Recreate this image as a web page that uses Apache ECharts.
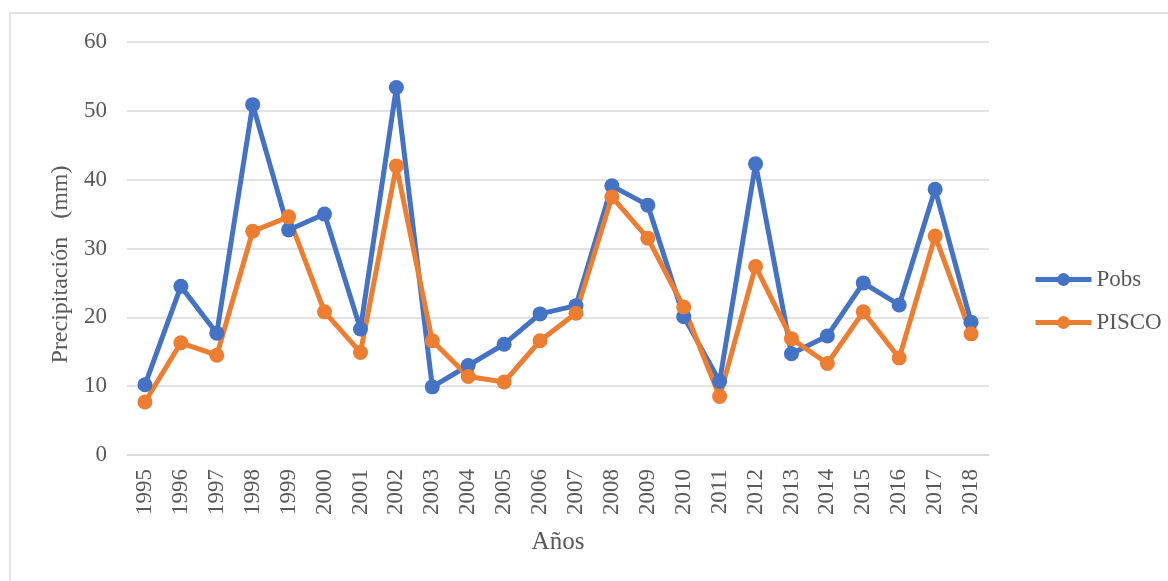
<!DOCTYPE html>
<html>
<head>
<meta charset="utf-8">
<script src="https://cdn.jsdelivr.net/npm/echarts@6/dist/echarts.min.js"></script>
<style>
  html, body { margin: 0; padding: 0; background: #fff; }
  #chart { width: 1168px; height: 581px; }
</style>
</head>
<body>
<div id="chart"></div>
<script>
const years = ['1995', '1996', '1997', '1998', '1999', '2000', '2001', '2002', '2003', '2004', '2005', '2006',
  '2007', '2008', '2009', '2010', '2011', '2012', '2013', '2014', '2015', '2016', '2017', '2018'];
const pobs = [10.2, 24.5, 17.7, 50.9, 32.7, 35.0, 18.3, 53.4, 9.9, 13.0, 16.1, 20.5,
  21.7, 39.1, 36.3, 20.1, 10.7, 42.3, 14.7, 17.3, 25.0, 21.8, 38.6, 19.3];
const pisco = [7.7, 16.3, 14.5, 32.5, 34.6, 20.8, 14.9, 42.0, 16.6, 11.4, 10.6, 16.6,
  20.6, 37.5, 31.5, 21.5, 8.5, 27.4, 16.9, 13.3, 20.8, 14.1, 31.8, 17.6];
const yTicks = { min: 0, max: 60, interval: 10 };

const chart = echarts.init(document.getElementById('chart'));
const serif = '"Liberation Serif", "Times New Roman", serif';
const grey = '#595959';

chart.setOption({
  backgroundColor: '#fff',
  textStyle: { fontFamily: serif },
  graphic: [{
    type: 'rect',
    shape: { x: 10, y: 13, width: 1170, height: 600 },
    style: { fill: 'none', stroke: '#d9d9d9', lineWidth: 1.5 },
    silent: true
  }],
  grid: { left: 127, right: 179, top: 42, bottom: 126 },
  legend: {
    orient: 'vertical',
    left: 1028,
    top: 263,
    itemWidth: 56,
    itemHeight: 16,
    itemGap: 20,
    lineStyle: { width: 5 },
    textStyle: { fontFamily: serif, fontSize: 23, color: grey },
    data: ['Pobs', 'PISCO']
  },
  xAxis: {
    type: 'category',
    data: years,
    boundaryGap: true,
    name: 'Años',
    nameLocation: 'middle',
    nameGap: 75,
    nameTextStyle: { fontFamily: serif, fontSize: 25, color: grey },
    axisLine: { lineStyle: { color: '#d9d9d9', width: 1.5 } },
    axisTick: { show: false },
    axisLabel: { rotate: 90, margin: 14, fontSize: 23, color: grey, fontFamily: serif }
  },
  yAxis: {
    type: 'value',
    min: yTicks.min,
    max: yTicks.max,
    interval: yTicks.interval,
    name: 'Precipitación   (mm)',
    nameLocation: 'middle',
    nameRotate: 90,
    nameGap: 47,
    nameTextStyle: { fontFamily: serif, fontSize: 24, color: grey, padding: [0, 32, 0, 0] },
    axisLine: { show: false },
    axisTick: { show: false },
    axisLabel: { margin: 20, fontSize: 23, color: grey, fontFamily: serif },
    splitLine: { lineStyle: { color: '#d9d9d9', width: 1.5 } }
  },
  series: [
    {
      name: 'Pobs',
      type: 'line',
      data: pobs,
      symbol: 'circle',
      symbolSize: 15,
      color: '#4472C4',
      lineStyle: { width: 5, color: '#4472C4' },
      itemStyle: { color: '#4472C4' },
      animation: false
    },
    {
      name: 'PISCO',
      type: 'line',
      data: pisco,
      symbol: 'circle',
      symbolSize: 15,
      color: '#ED7D31',
      lineStyle: { width: 5, color: '#ED7D31' },
      itemStyle: { color: '#ED7D31' },
      animation: false
    }
  ]
});
</script>
</body>
</html>
